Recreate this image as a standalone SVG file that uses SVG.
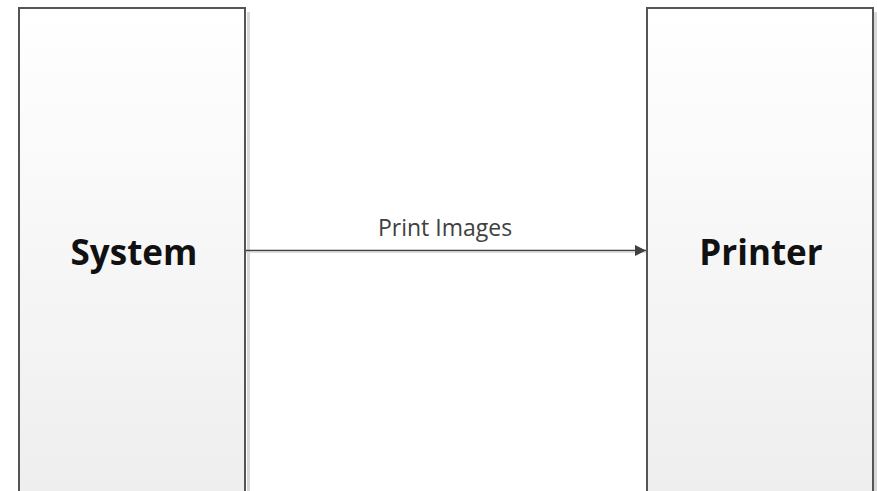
<svg xmlns="http://www.w3.org/2000/svg" width="877" height="491" viewBox="0 0 877 491">
<defs>
<linearGradient id="g" x1="0" y1="0" x2="0" y2="1">
<stop offset="0" stop-color="#ffffff"/>
<stop offset="1" stop-color="#eeeeee"/>
</linearGradient>
<marker id="arr" viewBox="0 0 10 10" refX="10" refY="5" markerWidth="11" markerHeight="11" markerUnits="userSpaceOnUse" orient="auto">
<path d="M0,0 L10,5 L0,10 z" fill="#404040"/>
</marker>
<style>
.box{fill:url(#g);stroke:#555555;stroke-width:2}
.shadow{fill:#d8d8d8}
.big{font-family:"Open Sans","Liberation Sans",sans-serif;font-weight:bold;font-size:35px;fill:#111;text-anchor:middle}
.lbl{font-family:"Open Sans","Liberation Sans",sans-serif;font-size:23px;fill:#404040;text-anchor:middle}
</style>
</defs>
<rect width="877" height="491" fill="#ffffff"/>
<g id="system">
<rect class="shadow" x="247" y="12" width="3" height="485"/>
<rect class="box" x="19" y="8" width="226" height="490"/>
<text class="big" x="134" y="265">System</text>
</g>
<g id="printer">
<rect class="shadow" x="874" y="12" width="3" height="485"/>
<rect class="box" x="647" y="8" width="226" height="490"/>
<text class="big" x="761" y="265">Printer</text>
</g>
<g id="connectors">
<line x1="246" y1="252.5" x2="646" y2="252.5" stroke="#dddddd" stroke-width="1"/>
<line x1="246" y1="250.5" x2="646" y2="250.5" stroke="#404040" stroke-width="1.5" marker-end="url(#arr)"/>
<text class="lbl" x="445" y="236">Print Images</text>
</g>
</svg>
